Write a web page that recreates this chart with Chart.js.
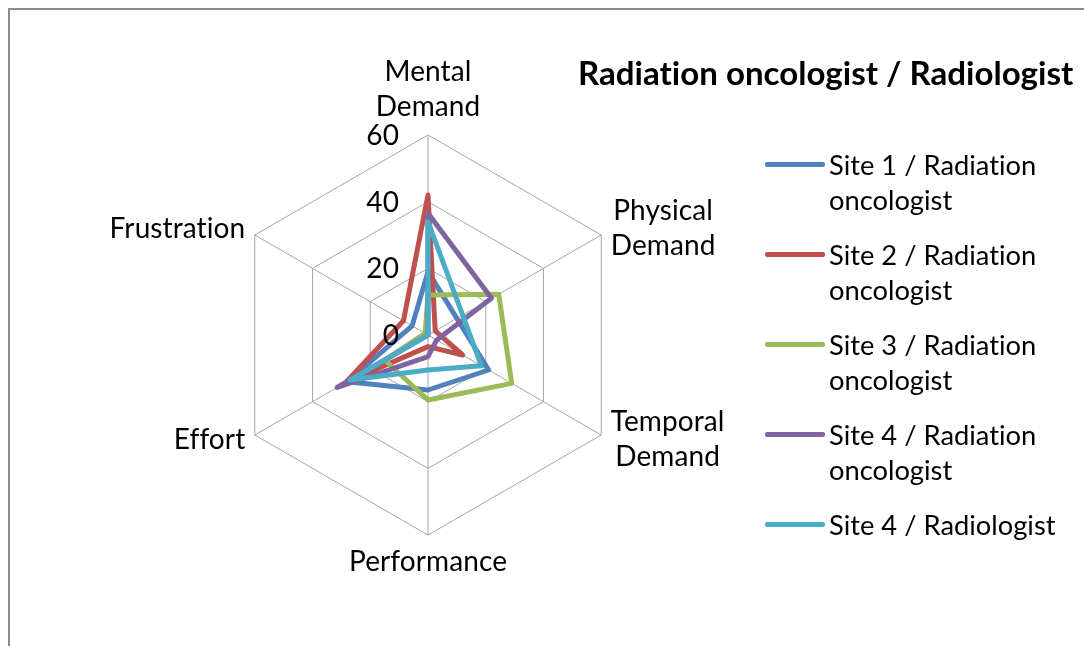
<!DOCTYPE html>
<html>
<head>
<meta charset="utf-8">
<script src="https://cdn.jsdelivr.net/npm/chart.js@4"></script>
<style>
  html, body { margin: 0; padding: 0; background: #fff; overflow: hidden; }
  body { width: 1084px; height: 646px; position: relative; font-family: Lato, "Open Sans", sans-serif; font-variant-ligatures: none; }
  #frame { position: absolute; left: 8px; top: 8px; width: 1200px; height: 800px; border: 2px solid #8c8c8c; }
  #chart { position: absolute; left: 0; top: 0; }
  #title { position: absolute; left: 578px; top: 52px; font-weight: bold; font-size: 33.1px; line-height: 40px; color: #000; white-space: nowrap; }
  #legend { position: absolute; left: 765px; top: 147px; }
  .item { display: flex; align-items: flex-start; margin-bottom: 20px; }
  .swatch { width: 60px; height: 4.5px; border-radius: 2px; margin-top: 15px; }
  .txt { width: 250px; margin-left: 4px; font-size: 27.3px; line-height: 35px; color: #000; }
</style>
</head>
<body>
<div id="frame"></div>
<canvas id="chart" width="1084" height="646"></canvas>
<div id="title">Radiation oncologist / Radiologist</div>
<div id="legend"></div>
<script>
const categories = [['Mental', 'Demand'], ['Physical', 'Demand'], ['Temporal', 'Demand'], 'Performance', 'Effort', 'Frustration'];
const seriesNames = ['Site 1 / Radiation oncologist', 'Site 2 / Radiation oncologist', 'Site 3 / Radiation oncologist', 'Site 4 / Radiation oncologist', 'Site 4 / Radiologist'];
const site1Rad = [19, 10, 21, 16.5, 28, 5.5];
const site2Rad = [42, 2.5, 12, 3.5, 28.5, 8.5];
const site3Rad = [12, 24.5, 29, 19.5, 15, 1];
const site4Rad = [36.5, 22, 3, 6.5, 31.5, 0];
const site4Radiol = [34, 12, 18.5, 10.5, 27, 0];
const tickValues = [0, 20, 40, 60];
const colors = ['#4f81bd', '#c0504d', '#9bbb59', '#8064a2', '#4bacc6'];

const seriesData = [site1Rad, site2Rad, site3Rad, site4Rad, site4Radiol];
const labelFont = '28px Lato, "Open Sans", sans-serif';
const lineH = 35;

// point labels + tick labels drawn Excel style (side labels centred vertically)
const excelLabels = {
    id: 'excelLabels',
    afterDatasetsDraw(chart) {
        const scale = chart.scales.r;
        const ctx = chart.ctx;
        ctx.save();
        ctx.fillStyle = '#000';
        ctx.font = labelFont;
        ctx.letterSpacing = '0.1px'; // also stops the "ti" ligature

        ctx.textAlign = 'right';
        ctx.textBaseline = 'middle';
        scale.ticks.forEach(t => {
            const d = scale.getDistanceFromCenterForValue(t.value);
            ctx.fillText(String(t.value), scale.xCenter - 29, scale.yCenter - d + 1);
        });

        ctx.textAlign = 'center';
        categories.forEach((lab, i) => {
            const lines = Array.isArray(lab) ? lab : [lab];
            const p = scale.getPointPosition(i, scale.drawingArea + 11);
            const dx = p.x - scale.xCenter;
            const dy = p.y - scale.yCenter;
            const maxW = Math.max(...lines.map(l => ctx.measureText(l).width));
            const blockH = lines.length * lineH;
            let cx, top;
            if (Math.abs(dx) < 1) {
                cx = p.x;
                top = dy < 0 ? p.y - blockH : p.y - 2;
            } else {
                cx = dx > 0 ? p.x + maxW / 2 : p.x - maxW / 2;
                top = p.y - blockH / 2 - 1;
            }
            lines.forEach((l, k) => ctx.fillText(l, cx, top + lineH * k + lineH / 2));
        });
        ctx.restore();
    }
};

new Chart(document.getElementById('chart'), {
    type: 'radar',
    data: {
        labels: categories,
        datasets: seriesData.map((d, i) => ({
            label: seriesNames[i],
            data: d,
            borderColor: colors[i],
            backgroundColor: colors[i],
            borderWidth: 5,
            borderJoinStyle: 'round',
            pointRadius: 0,
            fill: false,
            tension: 0,
            order: seriesData.length - i
        }))
    },
    options: {
        responsive: false,
        animation: false,
        layout: { padding: { left: 228, top: 135, right: 456, bottom: 111 } },
        plugins: { legend: { display: false }, tooltip: { enabled: false } },
        scales: {
            r: {
                min: tickValues[0],
                max: tickValues[tickValues.length - 1],
                ticks: { stepSize: 20, display: false, showLabelBackdrop: false },
                grid: { color: '#a6a6a6', lineWidth: 1 },
                angleLines: { color: '#a6a6a6', lineWidth: 1 },
                pointLabels: { display: false }
            }
        }
    },
    plugins: [excelLabels]
});

const legend = document.getElementById('legend');
seriesNames.forEach((name, i) => {
    const item = document.createElement('div');
    item.className = 'item';
    item.innerHTML = '<span class="swatch" style="background:' + colors[i] + '"></span><span class="txt">' + name + '</span>';
    legend.appendChild(item);
});
</script>
</body>
</html>
